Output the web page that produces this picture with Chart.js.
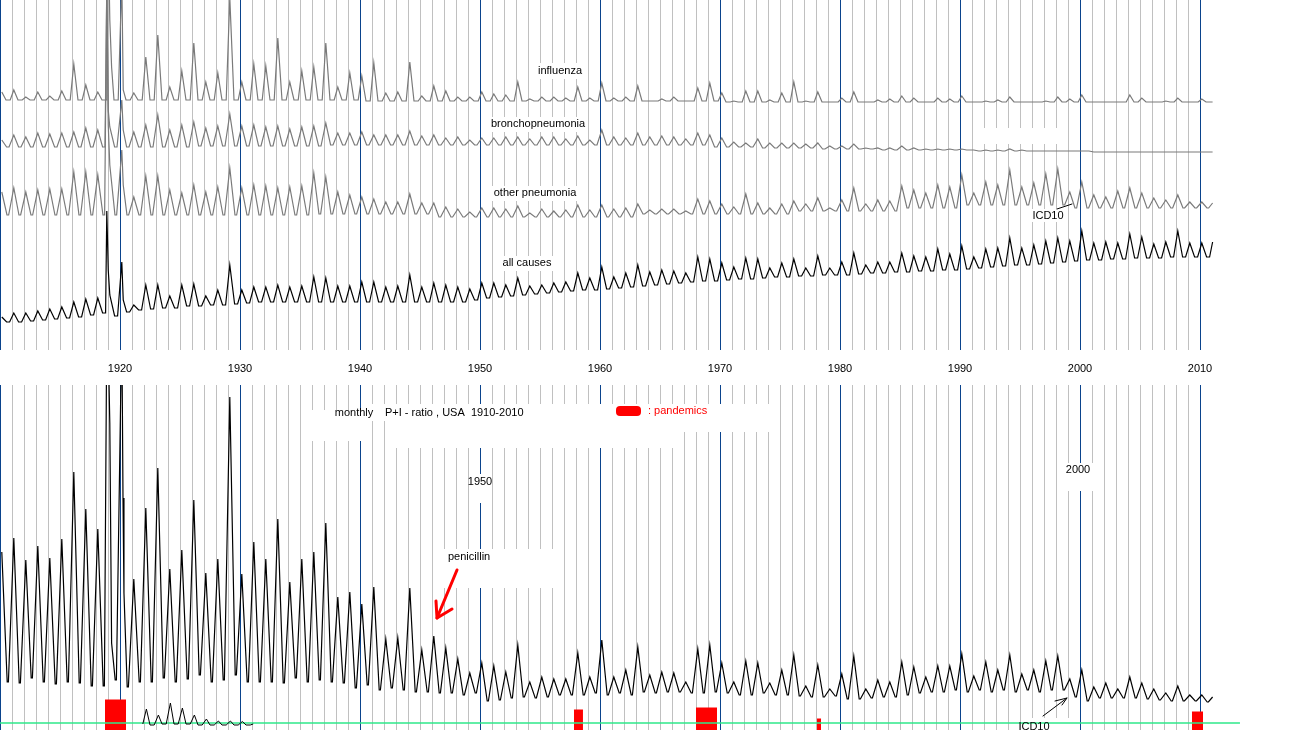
<!DOCTYPE html>
<html>
<head>
<meta charset="utf-8">
<script src="https://cdn.jsdelivr.net/npm/chart.js@4.4.0/dist/chart.umd.min.js"></script>
<style>
html, body { margin: 0; padding: 0; background: #fff; }
#chartTop { position: absolute; left: 0; top: 0; }
#chartBottom { position: absolute; left: 0; top: 385px; }
</style>
</head>
<body>
<canvas id="chartTop" width="1300" height="385"></canvas>
<canvas id="chartBottom" width="1300" height="345"></canvas>
<script>
"use strict";

// monthly series, read off the picture as one winter peak and one summer level per year
// (relative units, 1910 ... 2010)
const FIRST_YEAR = 1910;
const LAST_GRID_YEAR = 2010;

const fluPeaks = [
    18, 20, 13, 18, 14, 19, 46, 25, 18, 90,
    130, 17, 53, 75, 23, 39, 67, 28, 37, 112,
    28, 46, 44, 72, 28, 39, 43, 67, 23, 37,
    34, 47, 17, 18, 48, 14, 24, 19, 13, 13,
    18, 16, 15, 28, 11, 13, 13, 12, 23, 12,
    27, 12, 13, 24, 9, 11, 13, 9, 22, 27,
    17, 9, 19, 19, 10, 17, 28, 9, 18, 8,
    12, 18, 8, 10, 11, 14, 12, 8, 12, 11,
    14, 8, 9, 10, 13, 8, 8, 9, 13, 11,
    15, 8, 8, 8, 15, 12, 8, 9, 12, 8, 11
];
const fluTroughs = [
    10, 10, 10, 10, 10, 10, 10, 10, 10, 10,
    10, 10, 10, 10, 10, 10, 10, 10, 10, 10,
    10, 10, 10, 10, 10, 10, 10, 10, 10, 10,
    9, 9, 9, 9, 9, 9, 9, 9, 9, 9,
    9, 9, 9, 9, 9, 9, 9, 9, 9, 9,
    9, 9, 9, 9, 9, 9, 9, 9, 9, 9,
    8, 8, 8, 8, 8, 8, 8, 8, 8, 8,
    8, 8, 8, 8, 8, 8, 8, 8, 8, 8,
    8, 8, 8, 8, 8, 8, 8, 8, 8, 8,
    8, 8, 8, 8, 8, 8, 8, 8, 8, 8, 8
];
const fluEvents = [[1918.9, 200], [1919.02, 180], [1919.3, 43], [1920.27, 20], [2011.05, 8]];

const bronchPeaks = [
    15, 20, 18, 22, 21, 22, 23, 27, 25, 28,
    55, 23, 30, 40, 25, 30, 33, 27, 29, 41,
    29, 30, 28, 29, 26, 28, 29, 32, 22, 22,
    23, 20, 20, 20, 24, 19, 20, 17, 18, 15,
    17, 17, 18, 18, 16, 18, 18, 16, 19, 15,
    25, 18, 17, 22, 18, 19, 18, 16, 22, 20,
    17, 13, 12, 16, 12, 12, 12, 11, 12, 9,
    9, 11, 7, 7, 7, 9, 7, 6, 6, 6,
    6, 5, 5, 5, 6, 5, 4, 4, 4, 4,
    4, 3, 3, 3, 3, 3, 3, 3, 3, 3, 3
];
const bronchTroughs = [
    8, 8, 8, 8, 8, 8, 8, 8, 8, 8,
    8, 8, 8, 8, 8, 8, 9, 9, 9, 9,
    9, 9, 9, 9, 9, 9, 9, 10, 10, 10,
    10, 10, 10, 10, 10, 10, 10, 10, 10, 10,
    10, 10, 10, 10, 10, 10, 10, 10, 10, 10,
    10, 10, 10, 10, 10, 10, 10, 10, 10, 8,
    8, 8, 8, 7, 7, 7, 7, 7, 6, 6,
    6, 6, 6, 5, 5, 5, 5, 5, 5, 5,
    5, 4, 4, 4, 4, 4, 4, 4, 4, 4,
    4, 3, 3, 3, 3, 3, 3, 3, 3, 3, 3
];
const bronchEvents = [[1918.9, 170], [1919.02, 45], [1920.27, 25], [2011.05, 3]];

const otherPeaks = [
    33, 37, 33, 35, 36, 36, 53, 53, 50, 60,
    75, 28, 49, 49, 35, 32, 40, 33, 38, 57,
    37, 40, 39, 37, 38, 39, 52, 48, 33, 30,
    28, 26, 23, 23, 31, 22, 22, 18, 16, 13,
    17, 17, 16, 19, 12, 16, 14, 15, 20, 15,
    20, 16, 17, 21, 15, 16, 16, 14, 26, 24,
    21, 18, 31, 22, 17, 21, 24, 21, 27, 17,
    25, 37, 21, 25, 24, 39, 35, 32, 40, 38,
    50, 32, 43, 40, 55, 38, 42, 51, 56, 33,
    43, 30, 28, 34, 37, 32, 27, 25, 30, 23, 23
];
const otherTroughs = [
    10, 10, 10, 10, 10, 10, 10, 10, 10, 10,
    10, 10, 10, 10, 10, 10, 10, 10, 10, 10,
    10, 10, 10, 10, 10, 10, 11, 11, 11, 11,
    11, 11, 11, 11, 11, 11, 8, 8, 8, 8,
    8, 8, 8, 8, 8, 8, 8, 8, 8, 8,
    8, 8, 8, 11, 11, 11, 11, 11, 11, 11,
    11, 11, 11, 11, 11, 11, 14, 14, 14, 14,
    14, 14, 14, 14, 14, 17, 17, 17, 17, 17,
    20, 20, 20, 20, 20, 20, 20, 20, 20, 17,
    17, 17, 17, 17, 17, 17, 17, 17, 17, 17, 17
];
const otherEvents = [[1918.9, 240], [1919.02, 100], [1920.27, 40], [2011.05, 22]];

const allPeaks = [
    13, 17, 17, 19, 21, 23, 28, 31, 32, 35,
    68, 25, 45, 45, 34, 45, 46, 34, 40, 65,
    40, 43, 43, 45, 43, 44, 53, 52, 44, 44,
    48, 48, 43, 44, 55, 43, 47, 45, 43, 41,
    47, 47, 45, 52, 44, 45, 47, 48, 57, 52,
    63, 53, 57, 65, 58, 60, 59, 57, 73, 71,
    67, 63, 72, 71, 62, 67, 71, 62, 74, 62,
    68, 77, 65, 68, 68, 77, 74, 73, 81, 76,
    84, 73, 81, 82, 92, 82, 85, 89, 92, 89,
    99, 87, 88, 87, 96, 93, 86, 88, 99, 87, 87
];
const allTroughs = [
    8, 8, 9, 10, 11, 12, 13, 15, 17, 14,
    18, 20, 21, 22, 22, 24, 24, 25, 25, 26,
    27, 28, 28, 28, 28, 28, 28, 28, 28, 28,
    28, 28, 28, 28, 28, 28, 28, 28, 28, 30,
    32, 33, 34, 35, 36, 37, 38, 39, 40, 40,
    41, 42, 43, 44, 45, 46, 47, 48, 49, 49,
    50, 51, 51, 52, 53, 53, 54, 54, 55, 55,
    55, 56, 57, 57, 58, 58, 59, 59, 60, 60,
    61, 62, 63, 64, 65, 65, 66, 67, 68, 69,
    70, 70, 71, 71, 72, 72, 72, 73, 73, 73, 73
];
const allEvents = [[1918.9, 119], [1919.02, 60], [1920.27, 30], [2011.05, 88]];

// P+I ratio (lower panel)
const ratioPeaks = [
    171, 185, 163, 177, 165, 184, 251, 214, 194, 300,
    400, 144, 215, 255, 154, 173, 223, 150, 164, 326,
    149, 181, 164, 204, 141, 164, 171, 200, 126, 131,
    119, 136, 84, 85, 135, 73, 87, 75, 64, 50,
    60, 57, 51, 78, 41, 46, 44, 44, 70, 46,
    83, 46, 53, 76, 48, 51, 50, 41, 74, 78,
    60, 41, 62, 60, 40, 53, 68, 37, 58, 34,
    49, 67, 34, 43, 41, 61, 56, 46, 57, 57,
    69, 47, 61, 53, 68, 49, 53, 62, 67, 44,
    53, 36, 40, 34, 46, 40, 34, 30, 37, 28, 28
];
const ratioTroughs = [
    41, 40, 45, 41, 39, 41, 40, 37, 37, 43,
    36, 41, 41, 45, 41, 44, 48, 41, 43, 48,
    41, 41, 41, 40, 45, 41, 43, 41, 40, 35,
    38, 33, 35, 33, 31, 31, 30, 30, 28, 30,
    22, 23, 25, 26, 25, 26, 28, 28, 28, 30,
    28, 30, 28, 31, 30, 31, 31, 30, 30, 31,
    30, 28, 28, 30, 28, 28, 27, 26, 26, 27,
    24, 24, 25, 26, 26, 28, 30, 31, 31, 33,
    31, 33, 31, 33, 31, 33, 31, 33, 33, 26,
    22, 25, 25, 25, 25, 24, 23, 22, 22, 22, 21
];
const ratioEvents = [[1918.9, 400], [1919.02, 380], [1919.3, 80], [1920.25, 225], [1920.33, 130], [2011.05, 26]];

// short series drawn on the zero line, 1922-1930
const INSET_FIRST = 1922;
const insetPeaks = [14, 8, 20, 15, 8, 4, 2, 2, 1.5];
const insetTroughs = [-2, -1, -1, -1, -2, -2, -2, -2, -2];
const insetEvents = [[1921.9, -1], [1931.1, -1]];

// pandemics: start, end, height
const pandemics = [
    [1918.75, 1920.5, 23],
    [1957.83, 1958.58, 13],
    [1968.0, 1969.75, 15],
    [1978.08, 1978.42, 4],
    [2009.33, 2010.25, 11]
];
const ZERO_LINE_END = 2013.33;

// season timing (fraction of year): winter peak, start and end of the summer low
const SEASON_FLU = [0.15, 0.5, 0.85];
const SEASON_BRONCH = [0.15, 0.55, 0.75];
const SEASON_OTHER = [0.15, 0.58, 0.72];
const SEASON_ALL = [0.15, 0.55, 0.8];
const SEASON_RATIO = [0.15, 0.6, 0.7];
const SEASON_INSET = [0.2, 0.5, 0.85];

// ---------------------------------------------------------------

const buildSeries = (first, peaks, troughs, events, season) => {
    let pts = [];
    peaks.forEach((p, i) => {
        let yr = first + i;
        pts.push({x: yr + season[0], y: p});
        pts.push({x: yr + season[1], y: troughs[i]});
        pts.push({x: yr + season[2], y: troughs[i]});
    });
    events.forEach(e => pts.push({x: e[0], y: e[1]}));
    return pts.sort((a, b) => a.x - b.x);
}

const FONT = '11px "Liberation Sans", Arial, sans-serif';
const DECADE_BLUE = '#0a438c';
const YEAR_GRAY = '#c0c0c0';

const gridColor = ctx => {
    const v = ctx.tick ? ctx.tick.value : null;
    if (v == null || v > LAST_GRID_YEAR + 0.01 || Math.abs(v - Math.round(v)) > 1e-6) return 'rgba(0,0,0,0)';
    return Math.round(v) % 10 === 0 ? DECADE_BLUE : YEAR_GRAY;
}

const xScale = (axisHeight, showLabels) => ({
    type: 'linear',
    min: FIRST_YEAR,
    max: FIRST_YEAR + 1300 / 12,
    afterFit: s => {
        s.height = axisHeight;
        s.paddingLeft = 0;
        s.paddingRight = 0;
    },
    grid: { color: gridColor, lineWidth: 1, drawTicks: false },
    border: { display: false },
    ticks: {
        stepSize: 1,
        autoSkip: false,
        includeBounds: false,
        maxRotation: 0,
        padding: 12,
        display: showLabels,
        color: '#000',
        font: { family: '"Liberation Sans", Arial, sans-serif', size: 11 },
        callback: v => (v % 10 === 0 && v > FIRST_YEAR && v <= LAST_GRID_YEAR) ? String(v) : ''
    }
});

// white boxes, labels and arrows painted on top of the grid
const overlay = (offsetY, boxes, texts, strokes, blobs) => ({
    id: 'overlay',
    beforeDatasetsDraw(chart) {
        const c = chart.ctx;
        c.save();
        c.fillStyle = '#fff';
        boxes.forEach(b => c.fillRect(b[0], b[1] - offsetY, b[2] - b[0], b[3] - b[1]));
        c.restore();
    },
    afterDatasetsDraw(chart) {
        const c = chart.ctx;
        c.save();
        blobs.forEach(b => {
            c.fillStyle = b[4];
            c.beginPath();
            c.roundRect(b[0], b[1] - offsetY, b[2] - b[0], b[3] - b[1], 4);
            c.fill();
        });
        c.font = FONT;
        c.textBaseline = 'middle';
        texts.forEach(t => {
            c.fillStyle = t[4] || '#000';
            c.textAlign = t[3];
            c.fillText(t[0], t[1], t[2] - offsetY);
        });
        strokes.forEach(s => {
            c.strokeStyle = s.color;
            c.lineWidth = s.width;
            c.lineCap = 'round';
            c.lineJoin = 'round';
            c.beginPath();
            s.pts.forEach((p, i) => i ? c.lineTo(p[0], p[1] - offsetY) : c.moveTo(p[0], p[1] - offsetY));
            c.stroke();
        });
        c.restore();
    }
});

const lineSet = (label, data, axis, color, width) => ({
    label: label,
    data: data,
    yAxisID: axis,
    borderColor: color,
    borderWidth: width,
    pointRadius: 0,
    tension: 0,
    fill: false
});

// CHART 1 : the four death rates

const TOP_AREA = 350;
const topAxis = base => ({ display: false, min: base - TOP_AREA, max: base });

new Chart(document.getElementById('chartTop').getContext('2d'), {
    type: 'line',
    data: {
        datasets: [
            lineSet('all causes', buildSeries(FIRST_YEAR, allPeaks, allTroughs, allEvents, SEASON_ALL), 'yAll', '#000', 1.2),
            lineSet('other pneumonia', buildSeries(FIRST_YEAR, otherPeaks, otherTroughs, otherEvents, SEASON_OTHER), 'yOther', '#7a7a7a', 1.2),
            lineSet('bronchopneumonia', buildSeries(FIRST_YEAR, bronchPeaks, bronchTroughs, bronchEvents, SEASON_BRONCH), 'yBronch', '#7a7a7a', 1.2),
            lineSet('influenza', buildSeries(FIRST_YEAR, fluPeaks, fluTroughs, fluEvents, SEASON_FLU), 'yFlu', '#7a7a7a', 1.2)
        ]
    },
    options: {
        responsive: false,
        animation: false,
        devicePixelRatio: 1,
        events: [],
        layout: { padding: 0 },
        plugins: { legend: { display: false }, tooltip: { enabled: false } },
        scales: {
            x: xScale(35, true),
            yFlu: topAxis(110),
            yBronch: topAxis(155),
            yOther: topAxis(225),
            yAll: topAxis(330)
        }
    },
    plugins: [overlay(0,
        [[535, 63, 586, 79], [489, 117, 588, 132], [492, 186, 578, 201], [500, 256, 555, 271],
         [980, 128, 1058, 144], [1031, 209, 1064, 222]],
        [['influenza', 560, 71, 'center'], ['bronchopneumonia', 538, 124, 'center'],
         ['other pneumonia', 535, 193, 'center'], ['all causes', 527, 263, 'center'],
         ['ICD10', 1048, 216, 'center']],
        [{ color: '#000', width: 1, pts: [[1057, 209], [1072, 204]] }],
        []
    )]
});

// CHART 2 : P+I ratio

new Chart(document.getElementById('chartBottom').getContext('2d'), {
    type: 'line',
    data: {
        datasets: [
            lineSet('P+I ratio', buildSeries(FIRST_YEAR, ratioPeaks, ratioTroughs, ratioEvents, SEASON_RATIO), 'y', '#000', 1.2),
            lineSet('', buildSeries(INSET_FIRST, insetPeaks, insetTroughs, insetEvents, SEASON_INSET), 'y', '#000', 1),
            Object.assign(lineSet('zero', [{x: FIRST_YEAR, y: 0}, {x: ZERO_LINE_END, y: 0}], 'y', '#2ee88a', 1.5), { order: 2 }),
            ...pandemics.map(p => Object.assign(
                lineSet('pandemic', [{x: p[0], y: p[2]}, {x: p[1], y: p[2]}], 'y', '#ff0000', 1),
                { fill: { value: -7 }, backgroundColor: '#ff0000', order: 3 }))
        ]
    },
    options: {
        responsive: false,
        animation: false,
        devicePixelRatio: 1,
        events: [],
        layout: { padding: 0 },
        plugins: { legend: { display: false }, tooltip: { enabled: false } },
        scales: {
            x: xScale(0, false),
            y: { display: false, min: -7, max: 338 }
        }
    },
    plugins: [overlay(385,
        [[303, 410, 372, 441], [372, 404, 392, 421], [392, 404, 684, 448], [684, 404, 772, 432],
         [470, 474, 491, 503], [444, 549, 560, 588], [1063, 463, 1096, 491], [1030, 718, 1072, 730]],
        [['monthly', 354, 413, 'center'], ['P+I - ratio , USA  1910-2010', 385, 413, 'left'],
         [': pandemics', 648, 411, 'left', '#ff0000'], ['1950', 480, 482, 'center'],
         ['penicillin', 448, 557, 'left'], ['2000', 1078, 470, 'center'], ['ICD10', 1034, 727, 'center']],
        [{ color: '#ff0000', width: 3, pts: [[457, 570], [437, 618]] },
         { color: '#ff0000', width: 3, pts: [[436, 601], [437, 618], [452, 609]] },
         { color: '#000', width: 1, pts: [[1043, 716], [1067, 698]] },
         { color: '#000', width: 1, pts: [[1055, 701], [1067, 698], [1062, 705]] }],
        [[616, 406, 641, 416, '#ff0000']]
    )]
});
</script>
</body>
</html>
